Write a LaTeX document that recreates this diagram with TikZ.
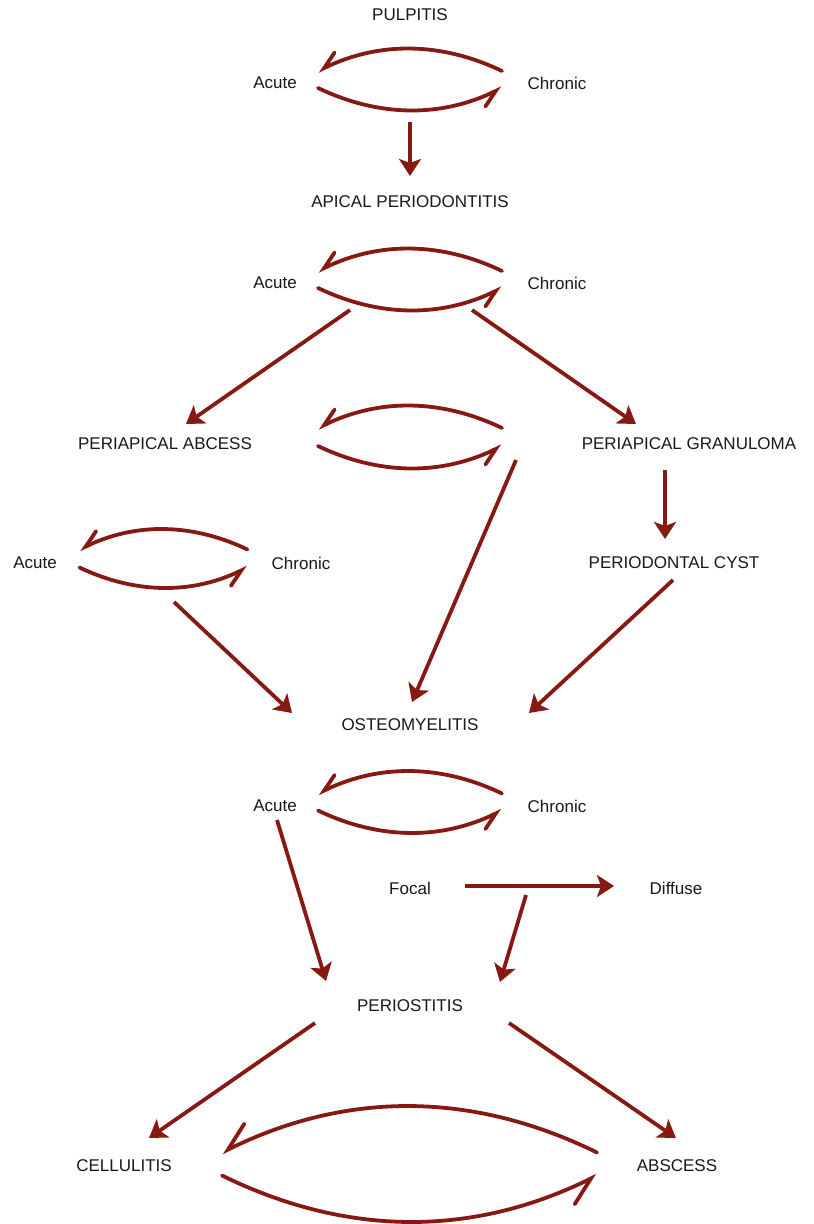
\documentclass[tikz,border=0pt]{standalone}
\usepackage{fontspec}
\setmainfont{Liberation Sans}
\usetikzlibrary{arrows.meta}
\definecolor{arrowred}{RGB}{134,26,18}
\tikzset{
  lbl/.style={font=\fontsize{17}{20}\selectfont, text=black!90, inner sep=0pt},
  arr/.style={draw=arrowred, line width=3.8pt, -{Stealth[length=17pt,width=22pt,inset=4pt]}},
  cyc/.style={draw=arrowred, line width=3.8pt, line cap=round, -{Straight Barb[harpoon,swap,length=16pt,width=19pt,line cap=round]}},
  bigcyc/.style={draw=arrowred, line width=3.8pt, line cap=round, -{Straight Barb[harpoon,swap,length=26pt,width=32pt,line cap=round]}}
}
% name, cx, cy, half-chord, half-gap, sag
\newcommand\cycpair[7][cyc]{%
  \coordinate (#2tr) at ({#3+#5},{#4-#6});
  \coordinate (#2tl) at ({#3-#5},{#4-#6});
  \coordinate (#2bl) at ({#3-#5},{#4+#6});
  \coordinate (#2br) at ({#3+#5},{#4+#6});
  \draw[#1] (#2tr) .. controls ({#3+#5/3},{#4-#6-1.333*#7}) and ({#3-#5/3},{#4-#6-1.333*#7}) .. (#2tl);
  \draw[#1] (#2bl) .. controls ({#3-#5/3},{#4+#6+1.333*#7}) and ({#3+#5/3},{#4+#6+1.333*#7}) .. (#2br);
}
\begin{document}
\begin{tikzpicture}[x=1pt,y=-1pt]
\useasboundingbox (0,0) rectangle (814,1224);
\fill[white] (0,0) rectangle (814,1224);
% labels
\node[lbl] (pulp) at (410,15) {PULPITIS};
\node[lbl] (a1) at (275,83) {Acute};
\node[lbl] (c1) at (557,83) {Chronic};
\node[lbl] (apical) at (410,202) {APICAL PERIODONTITIS};
\node[lbl] (a2) at (275,283) {Acute};
\node[lbl] (c2) at (557,283) {Chronic};
\node[lbl] (abcess) at (165,444) {PERIAPICAL ABCESS};
\node[lbl] (gran) at (689,444) {PERIAPICAL GRANULOMA};
\node[lbl] (a3) at (35,563) {Acute};
\node[lbl] (c3) at (301,563) {Chronic};
\node[lbl] (cyst) at (674,563) {PERIODONTAL CYST};
\node[lbl] (osteo) at (410,725) {OSTEOMYELITIS};
\node[lbl] (a4) at (275,806) {Acute};
\node[lbl] (c4) at (557,806) {Chronic};
\node[lbl] (focal) at (410,888) {Focal};
\node[lbl] (diffuse) at (676,888) {Diffuse};
\node[lbl] (perio) at (410,1006) {PERIOSTITIS};
\node[lbl] (cell) at (124,1166) {CELLULITIS};
\node[lbl] (absc) at (677,1166) {ABSCESS};
% cycle pairs
\cycpair{p1}{410}{79.5}{92}{8.5}{22}
\cycpair{p2}{410}{279.5}{92}{8.5}{22}
\cycpair{p3}{410}{437}{92}{9}{22}
\cycpair{p4}{410}{802}{92}{8.5}{22}
\cycpair{pl}{163.5}{558.5}{84}{9}{20}
\cycpair[bigcyc]{pb}{409.5}{1164}{187.5}{11.5}{46}
% connector end points
\coordinate (s1) at (410,122);   \coordinate (e1) at (410,176);
\coordinate (s2) at (350,310);   \coordinate (e2) at (186,424);
\coordinate (s3) at (472,310);   \coordinate (e3) at (636,424);
\coordinate (s4) at (516,460);   \coordinate (e4) at (412,702);
\coordinate (s5) at (665,470);   \coordinate (e5) at (665,539);
\coordinate (s6) at (174,602);   \coordinate (e6) at (292,713);
\coordinate (s7) at (673,580);   \coordinate (e7) at (529,713);
\coordinate (s8) at (277,820);   \coordinate (e8) at (326,981);
\coordinate (s9) at (465,886);   \coordinate (e9) at (614,886);
\coordinate (s10) at (526,895);  \coordinate (e10) at (500,982);
\coordinate (s11) at (315,1023); \coordinate (e11) at (149,1138);
\coordinate (s12) at (509,1023); \coordinate (e12) at (676,1138);
\draw[arr] (s1) -- (e1);
\draw[arr] (s2) -- (e2);
\draw[arr] (s3) -- (e3);
\draw[arr] (s4) -- (e4);
\draw[arr] (s5) -- (e5);
\draw[arr] (s6) -- (e6);
\draw[arr] (s7) -- (e7);
\draw[arr] (s8) -- (e8);
\draw[arr] (s9) -- (e9);
\draw[arr] (s10) -- (e10);
\draw[arr] (s11) -- (e11);
\draw[arr] (s12) -- (e12);
\end{tikzpicture}
\end{document}
